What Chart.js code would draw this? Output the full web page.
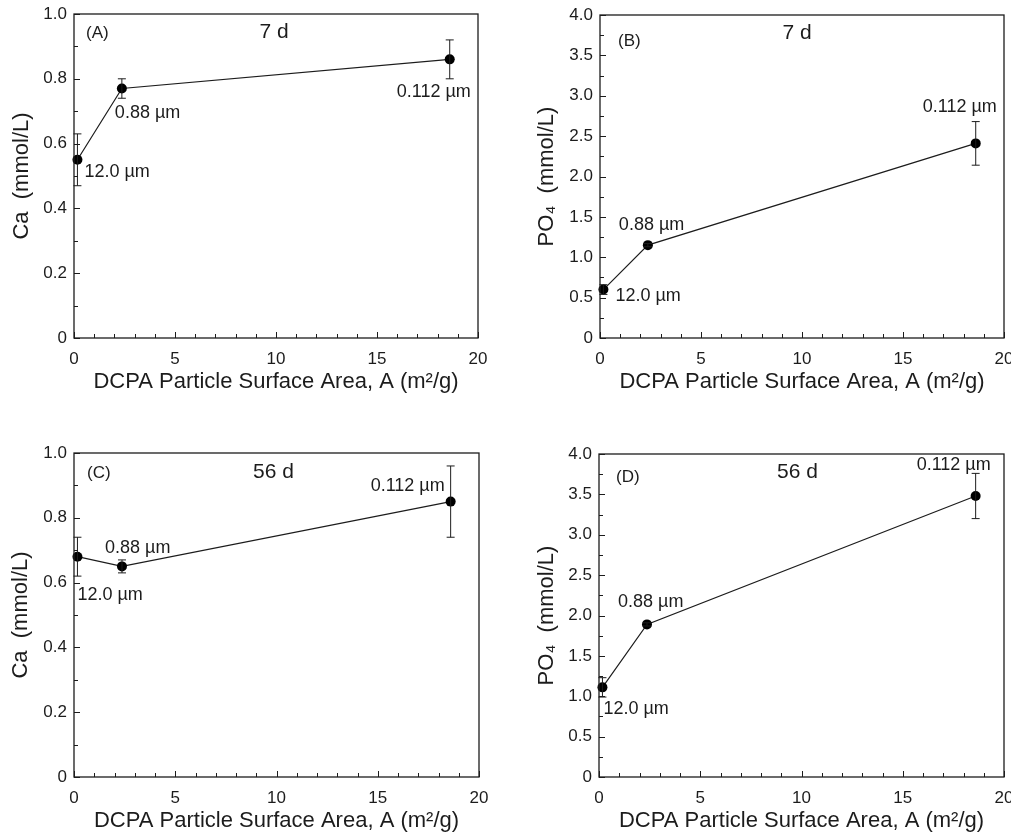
<!DOCTYPE html>
<html>
<head>
<meta charset="utf-8">
<script src="https://cdn.jsdelivr.net/npm/chart.js@4.4.0/dist/chart.umd.min.js"></script>
<style>
  html, body { margin: 0; padding: 0; background: #fff; }
  canvas { position: absolute; }
</style>
</head>
<body>
<canvas id="chartA" width="500" height="400" style="left:0;top:0"></canvas>
<canvas id="chartB" width="511" height="400" style="left:500px;top:0"></canvas>
<canvas id="chartC" width="500" height="402" style="left:0;top:430px"></canvas>
<canvas id="chartD" width="511" height="402" style="left:500px;top:430px"></canvas>
<script>
// data
const surfaceArea = [0.17, 2.37, 18.6];          // m2/g
const sizeLabels = ['12.0 µm', '0.88 µm', '0.112 µm'];
const ca7d = [0.55, 0.77, 0.86];
const ca7dErr = [0.08, 0.03, 0.06];
const po7d = [0.60, 1.15, 2.41];
const po7dErr = [0.06, 0.02, 0.27];
const ca56d = [0.68, 0.65, 0.85];
const ca56dErr = [0.06, 0.02, 0.11];
const po56d = [1.11, 1.89, 3.48];
const po56dErr = [0.12, 0.02, 0.28];

const xTicks = [0, 5, 10, 15, 20];
const caTicks = [0, 0.2, 0.4, 0.6, 0.8, 1.0];
const po4Ticks = [0, 0.5, 1.0, 1.5, 2.0, 2.5, 3.0, 3.5, 4.0];

const FONT = "'Liberation Sans', Arial, 'DejaVu Sans', sans-serif";
const INK = '#1c1c1c';

// box, inward ticks, error bars and text labels
const panelDecor = {
    id: 'panelDecor',
    afterDatasetsDraw(chart, args, opts) {
        const { ctx } = chart;
        const xs = chart.scales.x, ys = chart.scales.y;
        ctx.save();
        ctx.strokeStyle = INK;
        ctx.lineWidth = 1;
        opts.values.forEach((v, i) => {
            const px = xs.getPixelForValue(surfaceArea[i]);
            const top = ys.getPixelForValue(v + opts.errors[i]);
            const bot = ys.getPixelForValue(v - opts.errors[i]);
            ctx.beginPath();
            ctx.moveTo(px, top); ctx.lineTo(px, bot);
            ctx.moveTo(px - 4, top); ctx.lineTo(px + 4, top);
            ctx.moveTo(px - 4, bot); ctx.lineTo(px + 4, bot);
            ctx.stroke();
        });
        ctx.restore();
    },
    afterDraw(chart, args, opts) {
        const { ctx, chartArea: a } = chart;
        const xs = chart.scales.x, ys = chart.scales.y;
        ctx.save();
        ctx.strokeStyle = INK;
        ctx.lineWidth = 1.3;
        ctx.strokeRect(a.left, a.top, a.right - a.left, a.bottom - a.top);

        ctx.lineWidth = 1;
        ctx.beginPath();
        const nx = Math.round((xs.max - xs.min) / opts.xMinor);
        for (let k = 0; k <= nx; k++) {
            const v = xs.min + k * opts.xMinor;
            const len = xTicks.some(t => Math.abs(t - v) < 1e-6) ? 6 : 4;
            const px = Math.round(xs.getPixelForValue(v)) + 0.5;
            ctx.moveTo(px, a.bottom); ctx.lineTo(px, a.bottom - len);
        }
        const ny = Math.round((ys.max - ys.min) / opts.yMinor);
        for (let k = 0; k <= ny; k++) {
            const v = ys.min + k * opts.yMinor;
            const len = opts.yTicks.some(t => Math.abs(t - v) < 1e-6) ? 6 : 4;
            const py = Math.round(ys.getPixelForValue(v)) + 0.5;
            ctx.moveTo(a.left, py); ctx.lineTo(a.left + len, py);
        }
        ctx.stroke();

        ctx.fillStyle = INK;
        ctx.textBaseline = 'middle';
        ctx.font = '18px ' + FONT;
        ctx.textAlign = 'left';
        opts.values.forEach((v, i) => {
            const [dx, dy] = opts.labelOffsets[i];
            ctx.fillText(sizeLabels[i], xs.getPixelForValue(surfaceArea[i]) + dx, ys.getPixelForValue(v) + dy);
        });
        ctx.font = '17px ' + FONT;
        ctx.fillText(opts.letter, a.left + opts.letterPos[0], a.top + opts.letterPos[1]);
        ctx.font = '21px ' + FONT;
        ctx.textAlign = 'center';
        ctx.fillText(opts.day, (a.left + a.right) / 2 + opts.dayPos[0], a.top + opts.dayPos[1]);
        ctx.restore();
    }
};

function makeChart(id, p) {
    return new Chart(document.getElementById(id), {
        type: 'scatter',
        data: {
            datasets: [{
                data: surfaceArea.map((x, i) => ({ x: x, y: p.values[i] })),
                showLine: true,
                borderColor: INK,
                borderWidth: 1.2,
                pointRadius: 5,
                pointHoverRadius: 5,
                pointBackgroundColor: '#000',
                pointBorderWidth: 0,
                clip: 10
            }]
        },
        options: {
            responsive: false,
            animation: false,
            devicePixelRatio: 1,
            layout: { padding: { left: 0, top: p.top, right: p.right, bottom: 0 } },
            scales: {
                x: {
                    type: 'linear',
                    min: 0,
                    max: 20,
                    afterBuildTicks: s => { s.ticks = xTicks.map(v => ({ value: v })); },
                    afterFit: s => { s.height = p.xHeight; s.paddingLeft = 0; s.paddingRight = 0; },
                    grid: { display: false, drawTicks: false },
                    border: { display: false },
                    ticks: {
                        color: INK,
                        font: { family: FONT, size: 17 },
                        padding: 11,
                        maxRotation: 0,
                        callback: v => String(v)
                    },
                    title: {
                        display: true,
                        text: 'DCPA Particle Surface Area, A (m²/g)',
                        color: INK,
                        font: { family: FONT, size: 22, lineHeight: 1 },
                        padding: { top: 0, bottom: p.xTitlePad }
                    }
                },
                y: {
                    type: 'linear',
                    min: 0,
                    max: p.yMax,
                    afterBuildTicks: s => { s.ticks = p.yTicks.map(v => ({ value: v })); },
                    afterFit: s => { s.width = p.yWidth; s.paddingTop = 0; s.paddingBottom = 0; },
                    grid: { display: false, drawTicks: false },
                    border: { display: false },
                    ticks: {
                        color: INK,
                        font: { family: FONT, size: 17 },
                        padding: 7,
                        callback: v => v === 0 ? '0' : v.toFixed(1)
                    },
                    title: {
                        display: true,
                        text: p.yTitle,
                        color: INK,
                        font: { family: FONT, size: 22, lineHeight: 1 },
                        padding: { top: p.yTitlePad, bottom: 0 }
                    }
                }
            },
            plugins: {
                legend: { display: false },
                tooltip: { enabled: false },
                panelDecor: {
                    values: p.values,
                    errors: p.errors,
                    yTicks: p.yTicks,
                    xMinor: 1,
                    yMinor: p.yMinor,
                    letter: p.letter,
                    day: p.day,
                    letterPos: p.letterPos,
                    dayPos: p.dayPos,
                    labelOffsets: p.labelOffsets
                }
            }
        },
        plugins: [panelDecor]
    });
}

makeChart('chartA', {
    values: ca7d, errors: ca7dErr, yMax: 1.0, yTicks: caTicks, yMinor: 0.1,
    yTitle: 'Ca  (mmol/L)', letter: '(A)', day: '7 d',
    top: 14, right: 22, yWidth: 74, xHeight: 62, xTitlePad: 7, yTitlePad: 11,
    letterPos: [12, 19], dayPos: [-2, 18],
    labelOffsets: [[7, 12], [-7, 25], [-53, 33]]
});
makeChart('chartB', {
    values: po7d, errors: po7dErr, yMax: 4.0, yTicks: po4Ticks, yMinor: 0.25,
    yTitle: 'PO₄  (mmol/L)', letter: '(B)', day: '7 d',
    top: 15, right: 7, yWidth: 100, xHeight: 62, xTitlePad: 7, yTitlePad: 36,
    letterPos: [18, 26], dayPos: [-5, 18],
    labelOffsets: [[12, 6], [-29, -20], [-53, -36]]
});
makeChart('chartC', {
    values: ca56d, errors: ca56dErr, yMax: 1.0, yTicks: caTicks, yMinor: 0.1,
    yTitle: 'Ca  (mmol/L)', letter: '(C)', day: '56 d',
    top: 23, right: 21, yWidth: 74, xHeight: 55, xTitlePad: 0, yTitlePad: 10,
    letterPos: [13, 20], dayPos: [-3, 19],
    labelOffsets: [[0, 38], [-17, -18], [-80, -16]]
});
makeChart('chartD', {
    values: po56d, errors: po56dErr, yMax: 4.0, yTicks: po4Ticks, yMinor: 0.25,
    yTitle: 'PO₄  (mmol/L)', letter: '(D)', day: '56 d',
    top: 24, right: 7, yWidth: 99, xHeight: 55, xTitlePad: 0, yTitlePad: 36,
    letterPos: [17, 23], dayPos: [-4, 18],
    labelOffsets: [[1, 22], [-29, -22], [-59, -31]]
});
</script>
</body>
</html>
